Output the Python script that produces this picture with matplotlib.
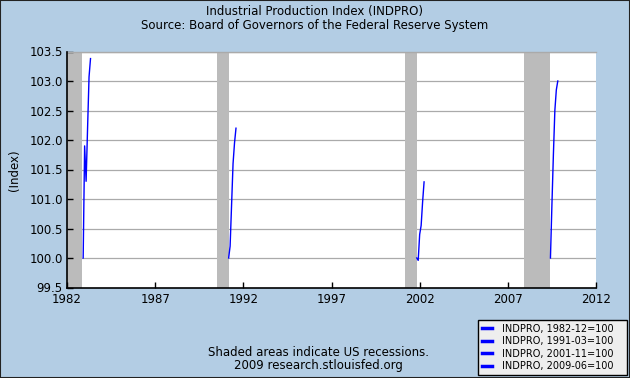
import matplotlib
matplotlib.use('Agg')
import matplotlib.pyplot as plt

# monthly values, each series indexed to 100 at its start month
s1982_start = (1982, 12)
s1982 = [100.0, 101.9, 101.3, 102.2, 103.07, 103.38]
s1991_start = (1991, 3)
s1991 = [100.0, 100.2, 100.9, 101.6, 101.95, 102.2]
s2001_start = (2001, 11)
s2001 = [100.0, 99.96, 100.4, 100.55, 100.95, 101.29]
s2009_start = (2009, 6)
s2009 = [100.0, 100.9, 101.75, 102.5, 102.85, 103.0]

labels = ['INDPRO, 1982-12=100', 'INDPRO, 1991-03=100',
          'INDPRO, 2001-11=100', 'INDPRO, 2009-06=100']

# recessions (start, end) as (year, month)
recessions = [((1981, 7), (1982, 11)), ((1990, 7), (1991, 3)),
              ((2001, 3), (2001, 11)), ((2007, 12), (2009, 6))]

xticks = [1982, 1987, 1992, 1997, 2002, 2007, 2012]
yticks = [99.5, 100.0, 100.5, 101.0, 101.5, 102.0, 102.5, 103.0, 103.5]


def ym(y, m):
    return y + (m - 1) / 12.0


def months(start, n):
    y, m = start
    return [ym(y, m) + i / 12.0 for i in range(n)]


bg = '#b3cde4'
plt.rcParams['font.family'] = ['DejaVu Sans']

fig = plt.figure(figsize=(6.3, 3.78), dpi=100, facecolor=bg)
ax = fig.add_axes([67 / 630, 1 - 287.5 / 378, 529 / 630, 236 / 378])
ax.set_facecolor('white')

for (a, b) in recessions:
    ax.axvspan(ym(*a), ym(*b), color='#bbbbbb', lw=0, zorder=1)

for yv in yticks[1:]:
    ax.axhline(yv, color='#aaaaaa', lw=0.9, zorder=0.5)
# top edge line drawn over the shading
ax.axhline(yticks[-1], color='#aaaaaa', lw=1.0, zorder=2, clip_on=False)

series = [(s1982_start, s1982), (s1991_start, s1991),
          (s2001_start, s2001), (s2009_start, s2009)]
for (start, vals), lab in zip(series, labels):
    ax.plot(months(start, len(vals)), vals, color='#0000ff', lw=1.0,
            label=lab, zorder=3)

ax.set_xlim(1982, 2012)
ax.set_ylim(99.5, 103.5)
ax.set_xticks(xticks)
ax.set_xticklabels([str(t) for t in xticks], fontsize=8.5)
ax.set_yticks(yticks)
ax.set_yticklabels(['%.1f' % t for t in yticks], fontsize=8.5)
ax.tick_params(direction='in', length=4, width=1, colors='black', pad=3)
ax.tick_params(axis='x', pad=4)
for s in ['top', 'right']:
    ax.spines[s].set_visible(False)
for s in ['left', 'bottom']:
    ax.spines[s].set_linewidth(1.2)

fig.text(0.5, 1 - 11 / 378, 'Industrial Production Index (INDPRO)',
         ha='center', va='center', fontsize=8.5)
fig.text(0.5, 1 - 25 / 378, 'Source: Board of Governors of the Federal Reserve System',
         ha='center', va='center', fontsize=8.5)
fig.text(14 / 630, 1 - 170 / 378, '(Index)', rotation=90,
         ha='center', va='center', fontsize=8.5)
fig.text(318 / 630, 1 - 352 / 378, 'Shaded areas indicate US recessions.',
         ha='center', va='center', fontsize=8.5)
fig.text(318 / 630, 1 - 366 / 378, '2009 research.stlouisfed.org',
         ha='center', va='center', fontsize=8.5)

handles, labs = ax.get_legend_handles_labels()
leg = fig.legend(handles, labs, loc='lower left',
                 bbox_to_anchor=(478 / 630, 1 - 375 / 378, 149 / 630, 54 / 378),
                 mode='expand', fontsize=7, frameon=True, fancybox=False,
                 handlelength=1.0, handletextpad=1.1, labelspacing=0.25,
                 borderpad=0.4, borderaxespad=0)
leg.get_frame().set_facecolor('#eeeeee')
leg.get_frame().set_edgecolor('black')
leg.get_frame().set_linewidth(1.0)
leg.get_frame().set_alpha(1)
for h in leg.get_lines():
    h.set_linewidth(2.5)

# dark border round the figure
fig.patches.append(plt.Rectangle((0, 0), 1, 1, transform=fig.transFigure,
                                 fill=False, edgecolor='#222222', lw=1.5))

fig.savefig('out.png', dpi=100, facecolor=bg)
